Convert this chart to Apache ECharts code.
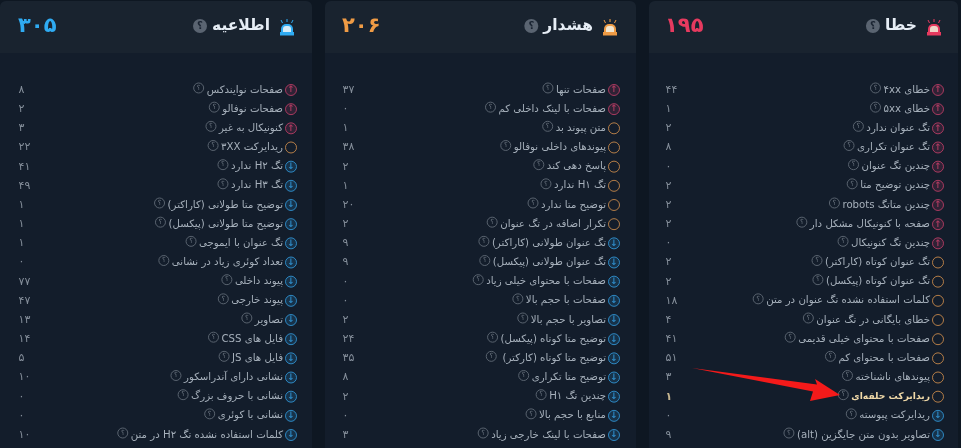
<!DOCTYPE html>
<html dir="rtl">
<head>
<meta charset="utf-8">
<script src="https://cdn.jsdelivr.net/npm/echarts@6/dist/echarts.min.js"></script>
<style>
html,body{margin:0;padding:0;background:#0e1722;}
#chart{width:961px;height:448px;}
</style>
</head>
<body>
<div id="chart"></div>
<script>
var errorLabels = ['خطای ۴xx','خطای ۵xx','تگ عنوان ندارد','تگ عنوان تکراری','چندین تگ عنوان','چندین توضیح متا','چندین متاتگ robots','صفحه با کنونیکال مشکل دار','چندین تگ کنونیکال','تگ عنوان کوتاه (کاراکتر)','تگ عنوان کوتاه (پیکسل)','کلمات استفاده نشده تگ عنوان در متن','خطای بایگانی در تگ عنوان','صفحات با محتوای خیلی قدیمی','صفحات با محتوای کم','پیوندهای ناشناخته','ریدایرکت حلقه‌ای','ریدایرکت پیوسته','تصاویر بدون متن جایگزین (alt)'];
var errorValues = [44,1,2,8,0,2,2,2,0,2,2,18,4,41,51,3,1,0,9];
var errorStatus = ['up','up','up','up','up','up','up','up','up','warn','warn','warn','warn','warn','warn','warn','warn','down','down'];

var warningLabels = ['صفحات تنها','صفحات با لینک داخلی کم','متن پیوند بد','پیوندهای داخلی نوفالو','پاسخ دهی کند','تگ H۱ ندارد','توضیح متا ندارد','تکرار اضافه در تگ عنوان','تگ عنوان طولانی (کاراکتر)','تگ عنوان طولانی (پیکسل)','صفحات با محتوای خیلی زیاد','صفحات با حجم بالا','تصاویر با حجم بالا','توضیح متا کوتاه (پیکسل)','توضیح متا کوتاه (کارکتر)\u00a0','توضیح متا تکراری','چندین تگ H۱','منابع با حجم بالا','صفحات با لینک خارجی زیاد'];
var warningValues = [37,0,1,38,2,1,20,2,9,9,0,0,2,24,35,8,2,0,3];
var warningStatus = ['up','up','warn','warn','warn','warn','warn','warn','down','down','down','down','down','down','down','down','down','down','down'];

var infoLabels = ['صفحات نوایندکس','صفحات نوفالو','کنونیکال به غیر','ریدایرکت ۳XX','تگ H۲ ندارد','تگ H۳ ندارد','توضیح متا طولانی (کاراکتر)','توضیح متا طولانی (پیکسل)','تگ عنوان با ایموجی','تعداد کوئری زیاد در نشانی','پیوند داخلی','پیوند خارجی','تصاویر','فایل های CSS','فایل های JS','نشانی دارای آندراسکور','نشانی با حروف بزرگ','نشانی با کوئری','کلمات استفاده نشده تگ H۲ در متن'];
var infoValues = [8,2,3,22,41,49,1,1,1,0,77,47,13,14,5,10,0,0,10];
var infoStatus = ['up','up','up','warn','down','down','down','down','down','down','down','down','down','down','down','down','down','down','down'];

var panelTitles = ['خطا','هشدار','اطلاعیه'];
var panelTotals = [195,206,305];
var highlightLabel = 'ریدایرکت حلقه‌ای';

var FONT = '"DejaVu Sans", sans-serif';
var statusColors = {up:'#c8406a', warn:'#d9944e', down:'#339fe4'};
var statusArrows = {up:'↑', warn:'', down:'↓'};

var panels = [
  {labels:errorLabels, values:errorValues, status:errorStatus, x0:649, x1:958, valueX:665, iconX:938, color:'#e63a5f', light:'#f0d5c8'},
  {labels:warningLabels, values:warningValues, status:warningStatus, x0:325, x1:636, valueX:342, iconX:614, color:'#ef9b45', light:'#f3e6cf'},
  {labels:infoLabels, values:infoValues, status:infoStatus, x0:0, x1:312, valueX:18, iconX:291, color:'#2fabf2', light:'#d5ecf8'}
];

function toFa(n){
  return String(n).replace(/\d/g, function(d){ return '۰۱۲۳۴۵۶۷۸۹'.charAt(+d); });
}

var grids = [], xAxes = [], yAxes = [], series = [], titles = [], graphics = [];

// panel backgrounds, the alarm lamp in each header
panels.forEach(function(p, k){
  graphics.push({type:'rect', z:0, silent:true, shape:{x:p.x0, y:1, width:p.x1-p.x0, height:470, r:6}, style:{fill:'#131d2b'}});
  graphics.push({type:'rect', z:0, silent:true, shape:{x:p.x0, y:1, width:p.x1-p.x0, height:52, r:[6,6,0,0]}, style:{fill:'#19232f'}});
  var c = p.iconX - 4;
  graphics.push({type:'group', z:1, silent:true, children:[
    {type:'rect', shape:{x:c-7, y:32, width:14, height:3.5}, style:{fill:p.color}},
    {type:'rect', shape:{x:c-6, y:24, width:12, height:8, r:[5,5,0,0]}, style:{fill:p.color}},
    {type:'rect', shape:{x:c-4, y:26, width:8, height:6, r:[3,3,0,0]}, style:{fill:p.light}},
    {type:'line', shape:{x1:c, y1:19, x2:c, y2:22}, style:{stroke:p.color, lineWidth:1}},
    {type:'line', shape:{x1:c-6, y1:20, x2:c-4.5, y2:23}, style:{stroke:p.color, lineWidth:1}},
    {type:'line', shape:{x1:c+6, y1:20, x2:c+4.5, y2:23}, style:{stroke:p.color, lineWidth:1}}
  ]});

  titles.push({
    text:'{help|؟}{name|'+panelTitles[k]+'}',
    right:961-(p.iconX-21), top:18, padding:0,
    textStyle:{rich:{
      name:{fontFamily:FONT, fontSize:15.5, fontWeight:'bold', color:'#e6edf5', padding:[0,0,0,5]},
      help:{fontFamily:FONT, fontSize:10, fontWeight:'bold', color:'#1a2432', backgroundColor:'#5a6471', borderRadius:7, width:14, height:14, lineHeight:14, align:'center'}
    }}
  });
  titles.push({
    text:toFa(panelTotals[k]),
    left:p.valueX, top:16, padding:0,
    textStyle:{fontFamily:FONT, fontSize:21, fontWeight:'bold', color:p.color}
  });

  grids.push({left:p.valueX, right:961-p.iconX, top:80.4, height:364.2, containLabel:false});
  xAxes.push({gridIndex:k, type:'value', min:0, max:1, show:false});
  yAxes.push({
    gridIndex:k, type:'category', inverse:true, position:'right', data:p.labels,
    axisLine:{show:false}, axisTick:{show:false}, splitLine:{show:false},
    axisLabel:{
      inside:true, margin:8, interval:0,
      formatter:function(v){
        return '{help|؟}{' + (v === highlightLabel ? 'bold' : 'name') + '|' + v + '}';
      },
      rich:{
        name:{fontFamily:FONT, fontSize:10.2, lineHeight:14, color:'#a6b0bb', padding:[0,0,0,3]},
        bold:{fontFamily:FONT, fontSize:9.2, lineHeight:14, fontWeight:'bold', color:'#f0d9a8', padding:[0,0,0,3]},
        help:{fontFamily:FONT, fontSize:7, color:'#737d88', borderColor:'#59636f', borderWidth:1, borderRadius:6, width:10, height:10, lineHeight:10, align:'center', verticalAlign:'top'}
      }
    }
  });

  series.push({
    type:'scatter', xAxisIndex:k, yAxisIndex:k, symbolSize:1, silent:true, clip:false,
    itemStyle:{color:'transparent'},
    data:p.values.map(function(v, i){
      var hot = p.labels[i] === highlightLabel;
      return {
        value:[0, i],
        label:{show:true, position:'right', distance:0, formatter:toFa(v), fontFamily:FONT, fontSize:11,
          fontWeight:hot ? 'bold' : 'normal', color:hot ? '#f0d9a8' : '#a0aab5'}
      };
    })
  });
  series.push({
    type:'scatter', xAxisIndex:k, yAxisIndex:k, symbol:'circle', symbolSize:11, silent:true, clip:false,
    data:p.status.map(function(s, i){
      return {
        value:[1, i],
        itemStyle:{color:s === 'warn' ? 'transparent' : statusColors[s]+'33', borderColor:statusColors[s], borderWidth:1},
        label:{show:true, position:'inside', formatter:statusArrows[s], fontFamily:FONT, fontSize:9, fontWeight:'bold', color:statusColors[s]}
      };
    })
  });
});

// red annotation arrow pointing at the circular redirect row
graphics.push({type:'polygon', z:100, silent:true,
  shape:{points:[[692,368],[817,384.5],[815,379],[840,395],[810,401],[813,391.5]]},
  style:{fill:'#f41a1a'}});

var myChart = echarts.init(document.getElementById('chart'));
myChart.setOption({
  animation:false,
  backgroundColor:'#0e1722',
  title:titles,
  grid:grids,
  xAxis:xAxes,
  yAxis:yAxes,
  series:series,
  graphic:graphics
});
</script>
</body>
</html>
